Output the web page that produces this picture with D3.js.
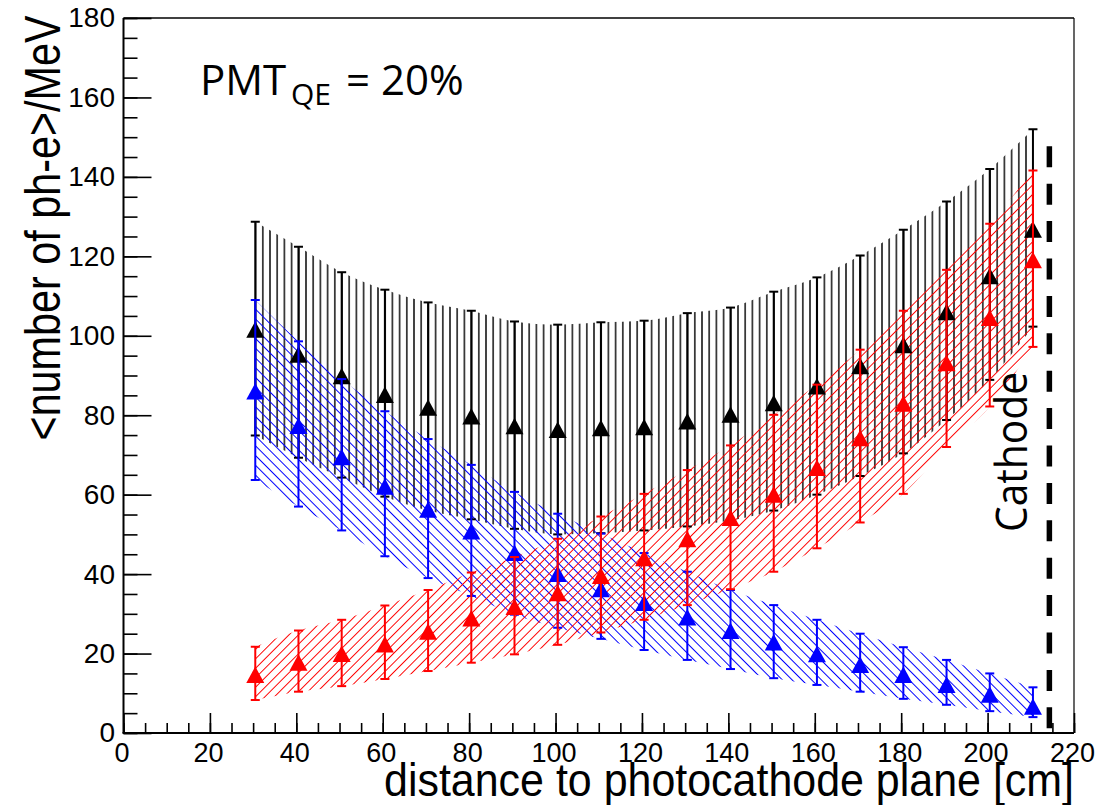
<!DOCTYPE html>
<html>
<head>
<meta charset="utf-8">
<script src="https://cdn.jsdelivr.net/npm/d3@7"></script>
<style>
  body { margin: 0; background: #fff; }
  svg { display: block; }
  .tick text { font-family: "Liberation Sans", Arial, sans-serif; fill: #000; }
</style>
</head>
<body>
<svg width="1100" height="805"></svg>
<script>
// distance to the photocathode plane [cm]
var xs = [30.5, 40.5, 50.5, 60.5, 70.5, 80.5, 90.5, 100.5, 110.5, 120.5,
          130.5, 140.5, 150.5, 160.5, 170.5, 180.5, 190.5, 200.5, 210.5];

// total (black)
var blackVal = [101.5, 95.2, 89.8, 85.1, 81.9, 79.7, 77.2, 76.3, 76.7, 77.0,
                78.4, 80.1, 83.0, 87.2, 92.3, 97.6, 105.9, 115.0, 126.7];
var blackHi  = [128.7, 122.4, 116.0, 111.6, 108.4, 106.3, 103.6, 102.8, 103.4, 103.8,
                105.7, 107.1, 111.1, 114.7, 120.2, 126.7, 133.8, 142.0, 152.0];
var blackLo  = [74.9, 69.3, 64.3, 59.5, 56.0, 53.8, 51.4, 50.0, 50.3, 51.0,
                52.0, 53.5, 56.0, 60.0, 64.7, 70.4, 78.8, 88.9, 102.3];

// blue
var blueVal = [86.0, 77.3, 69.4, 62.0, 56.2, 50.7, 45.3, 40.0, 36.2, 32.7,
               29.1, 25.7, 22.8, 19.8, 17.1, 14.6, 12.1, 9.6, 6.6];
var blueHi  = [109.0, 98.6, 89.1, 81.0, 74.0, 67.5, 60.7, 55.2, 50.2, 45.3,
               40.6, 36.0, 32.2, 28.5, 25.0, 21.6, 18.4, 15.0, 11.5];
var blueLo  = [63.7, 57.0, 51.0, 44.5, 39.0, 34.5, 29.8, 26.5, 23.7, 20.9,
               18.4, 16.1, 13.8, 12.1, 10.4, 8.6, 7.1, 5.5, 4.0];

// red
var redVal = [14.6, 17.7, 19.9, 22.3, 25.5, 28.8, 31.7, 35.2, 39.5, 44.0,
              48.8, 54.1, 60.0, 66.7, 74.2, 82.9, 93.1, 104.5, 119.0];
var redHi  = [21.7, 25.8, 28.5, 32.1, 36.0, 40.4, 44.3, 48.9, 54.5, 60.2,
              66.2, 72.4, 80.1, 87.7, 96.5, 106.3, 116.6, 128.2, 141.6];
var redLo  = [8.3, 10.4, 11.8, 13.6, 15.6, 17.7, 19.8, 22.2, 25.3, 28.5,
              32.2, 36.2, 40.6, 46.5, 53.0, 60.2, 72.0, 82.2, 97.2];

var xMajor = [0, 20, 40, 60, 80, 100, 120, 140, 160, 180, 200, 220];
var yMajor = [0, 20, 40, 60, 80, 100, 120, 140, 160, 180];

var cathodeX = 214.3;
var cathodeTop = 147.7;

var svg = d3.select("svg");
var padL = 123.5, padR = 1074, padT = 18, padB = 733;

var x = d3.scaleLinear().domain([0, 220]).range([padL, padR]);
var y = d3.scaleLinear().domain([0, 180]).range([padB, padT]);

var defs = svg.append("defs");
defs.append("clipPath").attr("id", "plot")
    .append("rect").attr("x", padL).attr("y", padT)
    .attr("width", padR - padL).attr("height", padB - padT);

function hatch(id, color, size, angle, sw) {
    var p = defs.append("pattern")
        .attr("id", id)
        .attr("patternUnits", "userSpaceOnUse")
        .attr("width", size).attr("height", 20);
    if (angle) p.attr("patternTransform", "rotate(" + angle + ")");
    p.append("line")
        .attr("x1", size / 2).attr("x2", size / 2)
        .attr("y1", 0).attr("y2", 20)
        .attr("stroke", color).attr("stroke-width", sw);
}
hatch("hBlack", "#000", 7.2, 0, 1.4);
hatch("hBlue", "#0000ff", 6.9, -45, 1);
hatch("hRed", "#ff0000", 6.7, 45, 1);

var series = [
    {val: blackVal, hi: blackHi, lo: blackLo, color: "#000", fill: "url(#hBlack)"},
    {val: blueVal, hi: blueHi, lo: blueLo, color: "#0000ff", fill: "url(#hBlue)"},
    {val: redVal, hi: redHi, lo: redLo, color: "#ff0000", fill: "url(#hRed)"}
];

var g = svg.append("g").attr("clip-path", "url(#plot)");

// hatched bands
var area = d3.area()
    .curve(d3.curveMonotoneX)
    .x(d => x(d.x))
    .y0(d => y(d.lo))
    .y1(d => y(d.hi));

series.forEach(s => {
    var pts = xs.map((xv, i) => ({x: xv, lo: s.lo[i], hi: s.hi[i]}));
    g.append("path").datum(pts)
        .attr("d", area)
        .attr("fill", s.fill)
        .attr("stroke", "none");
});

// error bars and triangle markers
var tri = "M0,-8.5L9,8L-9,8Z";
series.forEach(s => {
    var pts = xs.map((xv, i) => ({x: xv, v: s.val[i], lo: s.lo[i], hi: s.hi[i]}));
    var e = g.append("g").selectAll("g").data(pts).enter().append("g")
        .attr("stroke", s.color).attr("stroke-width", 2);
    e.append("line")
        .attr("x1", d => x(d.x)).attr("x2", d => x(d.x))
        .attr("y1", d => y(d.lo)).attr("y2", d => y(d.hi));
    e.append("line")
        .attr("x1", d => x(d.x) - 4.5).attr("x2", d => x(d.x) + 4.5)
        .attr("y1", d => y(d.hi)).attr("y2", d => y(d.hi));
    e.append("line")
        .attr("x1", d => x(d.x) - 4.5).attr("x2", d => x(d.x) + 4.5)
        .attr("y1", d => y(d.lo)).attr("y2", d => y(d.lo));
    g.append("g").selectAll("path").data(pts).enter().append("path")
        .attr("d", tri)
        .attr("transform", d => "translate(" + x(d.x) + "," + y(d.v) + ")")
        .attr("fill", s.color);
});

// cathode dashed line
svg.append("line")
    .attr("x1", x(cathodeX)).attr("x2", x(cathodeX))
    .attr("y1", y(cathodeTop)).attr("y2", y(0))
    .attr("stroke", "#000").attr("stroke-width", 5.5)
    .attr("stroke-dasharray", "21,16.4");

// axes
var yAxis = svg.append("g").attr("transform", "translate(" + padL + ",0)")
    .call(d3.axisLeft(y).tickValues(yMajor).tickSize(-28).tickSizeOuter(0).tickPadding(8.5));
svg.append("g").attr("transform", "translate(" + padL + ",0)")
    .call(d3.axisLeft(y).tickValues(d3.range(0, 181, 5)).tickSize(-14).tickSizeOuter(0).tickFormat(""));
var xAxis = svg.append("g").attr("transform", "translate(0," + padB + ")")
    .call(d3.axisBottom(x).tickValues(xMajor).tickSize(-20).tickSizeOuter(0).tickPadding(10));
svg.append("g").attr("transform", "translate(0," + padB + ")")
    .call(d3.axisBottom(x).tickValues(d3.range(0, 221, 5)).tickSize(-10).tickSizeOuter(0).tickFormat(""));

svg.selectAll(".domain").remove();
svg.selectAll(".tick line").attr("stroke", "#000").attr("stroke-width", 1.6);
yAxis.selectAll("text").style("font-size", "28px");
xAxis.selectAll("text").style("font-size", "27px").attr("dx", -2);

// frame
svg.append("line").attr("x1", padL).attr("x2", padL).attr("y1", padT).attr("y2", padB)
    .attr("stroke", "#000").attr("stroke-width", 2);
svg.append("line").attr("x1", padL - 1).attr("x2", padR).attr("y1", padB).attr("y2", padB)
    .attr("stroke", "#000").attr("stroke-width", 2);
svg.append("line").attr("x1", padL).attr("x2", padR).attr("y1", padT).attr("y2", padT)
    .attr("stroke", "#000").attr("stroke-width", 1.5);
svg.append("line").attr("x1", padR).attr("x2", padR).attr("y1", padT).attr("y2", padB)
    .attr("stroke", "#000").attr("stroke-width", 1.2);

// titles
svg.append("text")
    .attr("x", padR).attr("y", 796)
    .attr("text-anchor", "end")
    .attr("textLength", 690).attr("lengthAdjust", "spacingAndGlyphs")
    .style("font-family", "Liberation Sans, Arial, sans-serif")
    .style("font-size", "46px")
    .text("distance to photocathode plane [cm]");

svg.append("text")
    .attr("transform", "translate(60,228) rotate(-90)")
    .attr("text-anchor", "middle")
    .attr("textLength", 425).attr("lengthAdjust", "spacingAndGlyphs")
    .style("font-family", "Liberation Sans, Arial, sans-serif")
    .style("font-size", "50px")
    .text("<number of ph-e>/MeV");

var lbl = svg.append("g").style("font-family", "Open Sans, sans-serif").attr("fill", "#000");
lbl.append("text").attr("x", 200).attr("y", 95).style("font-size", "42px").text("PMT");
lbl.append("text").attr("x", 291).attr("y", 105).style("font-size", "30px").text("QE");
lbl.append("text").attr("x", 346).attr("y", 95).style("font-size", "42px").text("= 20%");

lbl.append("text")
    .attr("transform", "translate(1027,452) rotate(-90)")
    .attr("text-anchor", "middle")
    .attr("textLength", 160).attr("lengthAdjust", "spacingAndGlyphs")
    .style("font-size", "44px")
    .text("Cathode");
</script>
</body>
</html>
